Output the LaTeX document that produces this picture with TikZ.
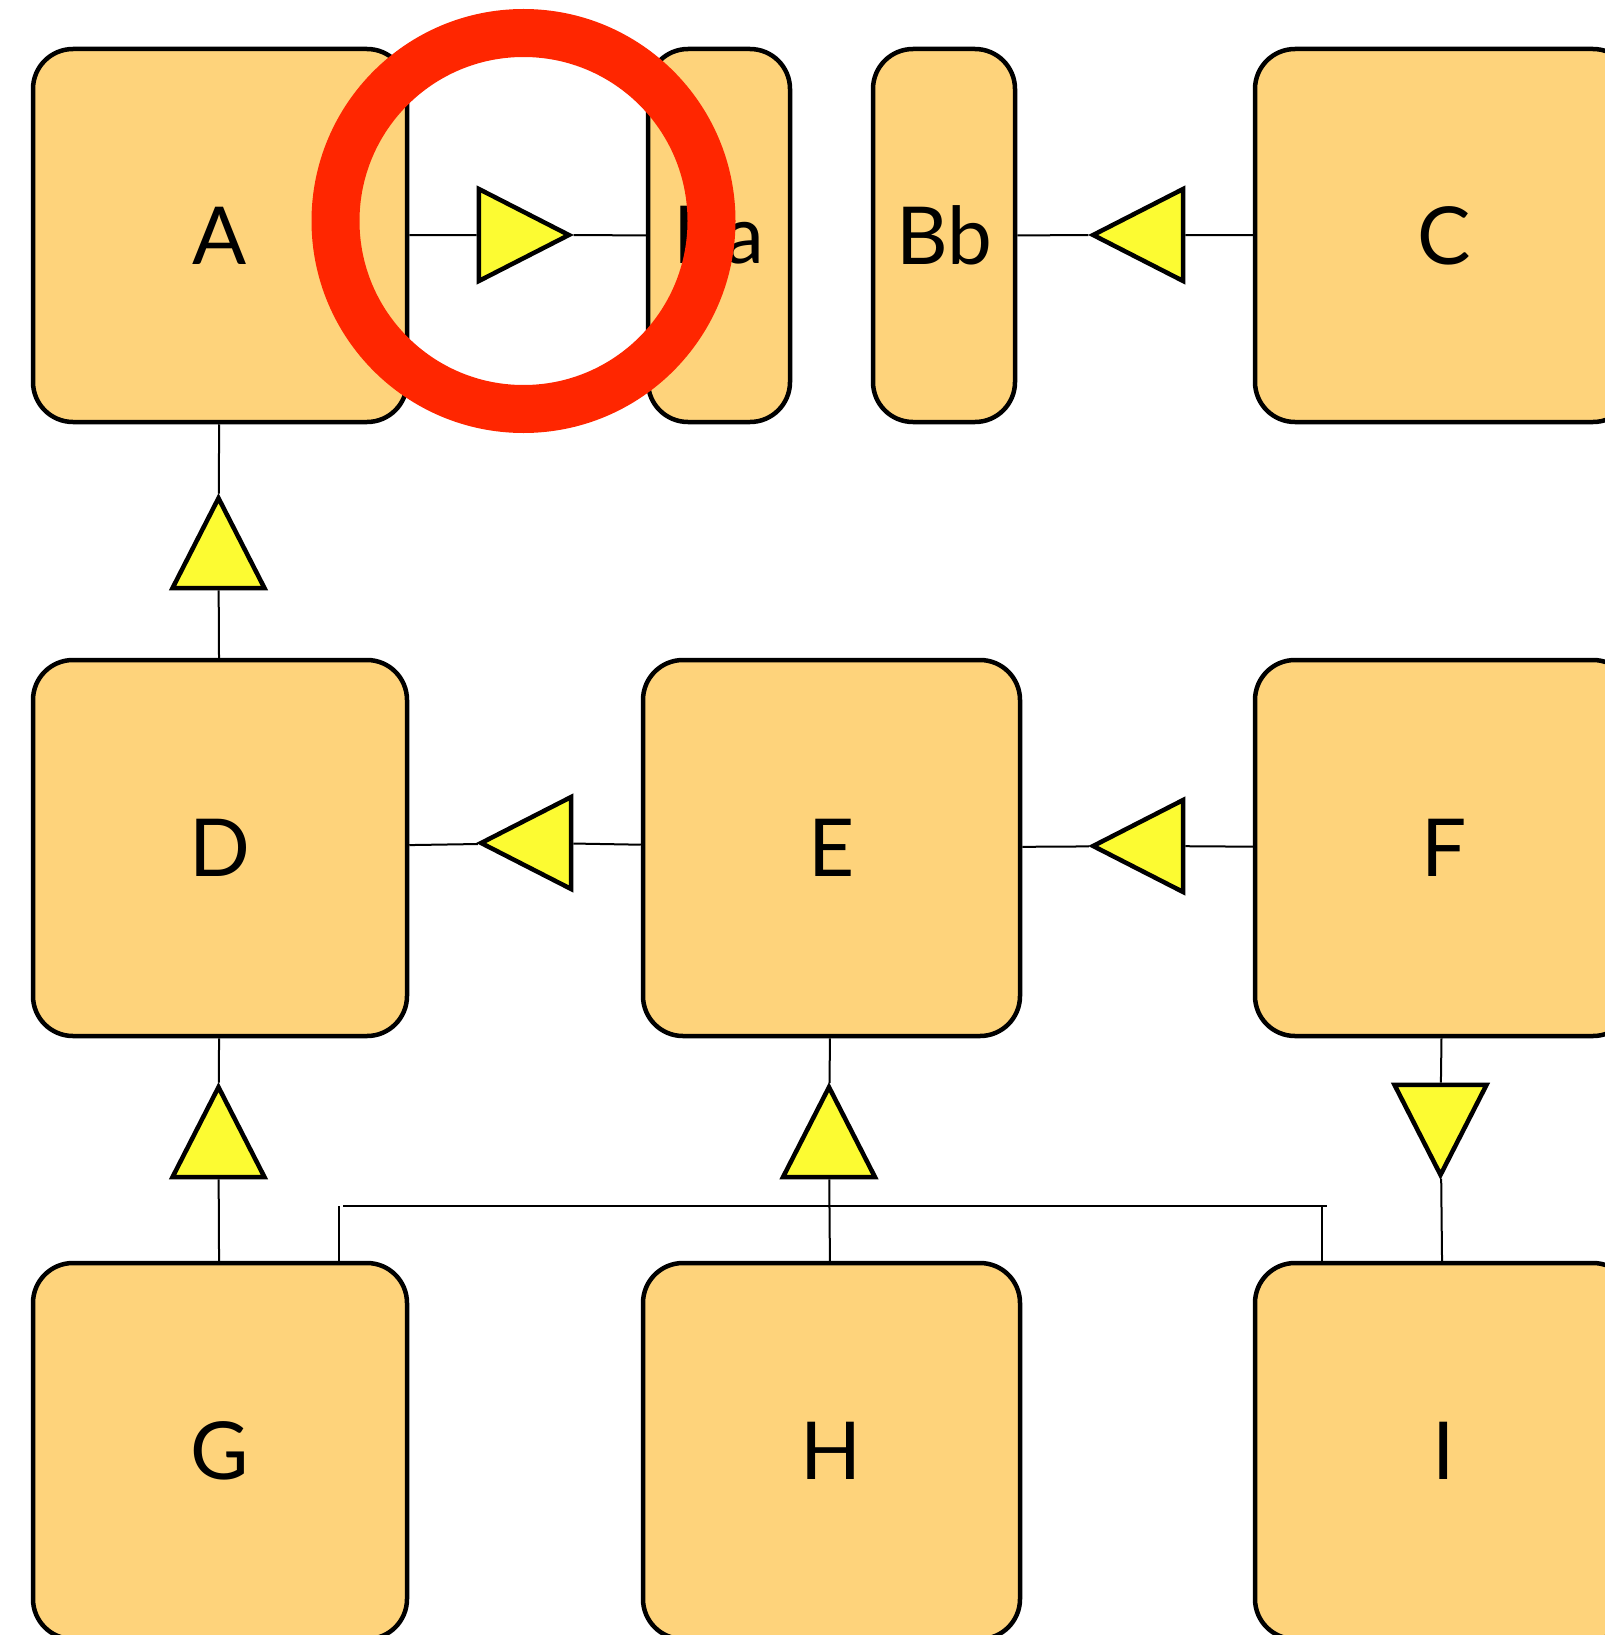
\documentclass[tikz,border=0pt]{standalone}
\usepackage{xcolor}
\usepackage{fontspec}
\setmainfont{Lato}
\usetikzlibrary{shapes}
\definecolor{boxfill}{HTML}{FED37B}
\definecolor{headfill}{HTML}{FCFB32}
\definecolor{ringred}{HTML}{FF2600}
\tikzstyle{block} = [rectangle, draw, fill=boxfill, line width=4.5pt,
    rounded corners=40pt, inner sep=0pt, minimum width=374pt,
    minimum height=373pt, font=\fontsize{80}{90}\selectfont]
\tikzstyle{narrow} = [block, minimum width=142pt]
\tikzstyle{head} = [isosceles triangle, isosceles triangle apex angle=52,
    isosceles triangle stretches=true, draw, fill=headfill, line width=4.5pt,
    inner sep=0pt, minimum width=92pt, minimum height=90pt, anchor=apex]
\tikzstyle{line} = [draw, line width=2pt]
\tikzstyle{bus} = [draw, line width=2.5pt]
\tikzstyle{ring} = [circle, draw=ringred, line width=48pt, minimum size=376pt]

\begin{document}
\begin{tikzpicture}[x=1pt, y=1pt]
    \useasboundingbox (0,0) rectangle (1604,-1635);
    % Place nodes

    \node [block] (A) at (220,-235.5) {A};
    \node [narrow, right of=A, node distance=499pt] (Ba) {Ba};
    \node [narrow, right of=Ba, node distance=225pt] (Bb) {Bb};
    \node [block, right of=Bb, node distance=500pt, minimum width=378pt] (C) {C};
    \node [block, below of=A, node distance=612.5pt, minimum height=376pt] (D) {D};
    \node [block, right of=D, node distance=611.5pt, minimum width=377pt, minimum height=376pt] (E) {E};
    \node [block, right of=E, node distance=612.5pt, minimum width=378pt, minimum height=376pt] (F) {F};
    \node [block, below of=D, node distance=603pt, minimum height=376pt] (G) {G};
    \node [block, below of=E, node distance=603pt, minimum width=377pt, minimum height=376pt] (H) {H};
    \node [block, below of=F, node distance=603pt, minimum width=378pt, minimum height=376pt] (I) {I};

    \node [head] (tri1) at (574,-235) {};
    \node [head, shape border rotate=180] (tri2) at (1088,-235) {};
    \node [head, shape border rotate=90] (tri3) at (218.5,-493) {};
    \node [head, shape border rotate=180] (tri4) at (476,-843) {};
    \node [head, shape border rotate=180] (tri5) at (1088,-846) {};
    \node [head, shape border rotate=90] (tri6) at (218.5,-1082) {};
    \node [head, shape border rotate=90] (tri7) at (829,-1082) {};
    \node [head, shape border rotate=270] (tri8) at (1440.5,-1180) {};

    \coordinate (busL) at (339,-1206);
    \coordinate (busR) at (1322,-1206);

    \path [line] (A) -- (tri1);
    \path [line] (tri1) -- (Ba);
    \path [line] (C) -- (tri2);
    \path [line] (tri2) -- (Bb);
    \path [line] (D) -- (tri3);
    \path [line] (tri3) -- (A);
    \path [line] (E) -- (tri4);
    \path [line] (tri4) -- (D);
    \path [line] (F) -- (tri5);
    \path [line] (tri5) -- (E);
    \path [line] (G) -- (tri6);
    \path [line] (tri6) -- (D);
    \path [line] (H) -- (tri7);
    \path [line] (tri7) -- (E);
    \path [line] (F) -- (tri8);
    \path [line] (tri8) -- (I);
    \path [line] (G.north -| busL) -- (busL);
    \path [bus] ([xshift=4pt]busL) -- ([xshift=5pt]busR);
    \path [line] (busR) -- (I.north -| busR);

    \node [ring] (mark) at (523.5,-221) {};
\end{tikzpicture}
\end{document}
